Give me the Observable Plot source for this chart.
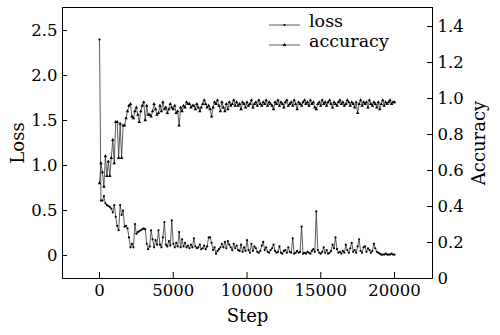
<!DOCTYPE html>
<html><head><meta charset="utf-8">
<script src="https://cdn.jsdelivr.net/npm/d3@7"></script>
<script src="https://cdn.jsdelivr.net/npm/@observablehq/plot@0.6"></script>
<style>
body{margin:0;background:#fff}
#wrap{position:relative;width:500px;height:335px;font-family:"DejaVu Serif",serif}
#wrap svg{position:absolute;left:0;top:0}
#wrap g[aria-label$="axis label"] text{font-size:18px}
</style></head><body><div id="wrap"></div>
<script>
// Training curve data, one value every 100 steps (step 0 .. 20000)
const stepInterval = 100;
const loss = [
2.40,0.61,0.61,0.66,0.58,0.56,0.55,0.54,0.52,0.48,
0.56,0.43,0.33,0.28,0.56,0.45,0.50,0.32,0.33,0.30,
0.20,0.09,0.13,0.09,0.35,0.24,0.26,0.27,0.28,0.29,
0.30,0.29,0.13,0.07,0.10,0.28,0.18,0.09,0.17,0.12,
0.28,0.12,0.09,0.20,0.37,0.12,0.10,0.16,0.11,0.39,
0.13,0.09,0.14,0.10,0.26,0.09,0.18,0.10,0.14,0.09,
0.11,0.08,0.12,0.09,0.19,0.10,0.08,0.09,0.12,0.07,
0.08,0.11,0.07,0.10,0.20,0.20,0.14,0.06,0.09,0.02,
0.05,0.07,0.09,0.13,0.09,0.15,0.08,0.16,0.12,0.09,
0.06,0.13,0.08,0.11,0.06,0.05,0.12,0.04,0.09,0.05,
0.17,0.06,0.03,0.13,0.05,0.10,0.08,0.04,0.03,0.05,
0.11,0.15,0.06,0.09,0.04,0.03,0.06,0.08,0.12,0.05,
0.03,0.04,0.10,0.03,0.02,0.05,0.06,0.03,0.09,0.04,
0.03,0.19,0.02,0.03,0.05,0.03,0.04,0.32,0.02,0.03,
0.02,0.04,0.03,0.02,0.05,0.07,0.04,0.49,0.06,0.03,
0.02,0.04,0.09,0.03,0.06,0.02,0.03,0.05,0.12,0.08,
0.20,0.07,0.03,0.04,0.02,0.05,0.03,0.12,0.06,0.03,
0.08,0.14,0.04,0.06,0.03,0.10,0.18,0.05,0.03,0.09,
0.10,0.04,0.08,0.06,0.03,0.05,0.13,0.08,0.04,0.03,
0.02,0.01,0.01,0.01,0.02,0.01,0.01,0.01,0.02,0.01,
0.01];
const accuracy = [
0.53,0.64,0.59,0.51,0.68,0.57,0.65,0.57,0.67,0.77,
0.64,0.87,0.87,0.67,0.86,0.67,0.85,0.85,0.89,0.93,
0.96,0.97,0.90,0.89,0.93,0.95,0.91,0.87,0.93,0.96,
0.98,0.88,0.96,0.91,0.91,0.90,0.93,0.97,0.94,0.91,
0.92,0.96,0.93,0.98,0.94,0.95,0.92,0.94,0.97,0.95,
0.94,0.96,0.92,0.93,0.85,0.95,0.93,0.96,0.95,0.98,
0.97,0.97,0.95,0.96,0.96,0.94,0.97,0.95,0.93,0.95,
0.97,0.99,0.97,0.95,0.96,0.94,0.90,0.95,0.98,0.97,
0.99,0.96,0.93,0.98,0.95,0.93,0.97,0.94,0.98,0.96,
0.97,0.99,0.96,0.98,0.96,0.97,0.94,0.98,0.97,0.95,
0.98,0.96,0.97,0.99,0.95,0.97,0.98,0.96,0.99,0.97,
0.96,0.98,0.97,0.99,0.96,0.98,0.97,0.96,0.94,0.98,
0.97,0.99,0.96,0.98,0.97,0.95,0.98,0.99,0.96,0.97,
0.98,0.96,0.99,0.97,0.94,0.98,0.97,0.96,0.98,0.99,
0.97,0.98,0.96,0.99,0.97,0.98,0.95,0.94,0.97,0.98,
0.96,0.99,0.97,0.98,0.96,0.98,0.99,0.97,0.95,0.98,
0.97,0.96,0.98,0.99,0.97,0.98,0.96,0.97,0.99,0.98,
0.96,0.98,0.97,0.95,0.98,0.92,0.97,0.99,0.96,0.98,
0.97,0.98,0.95,0.99,0.97,0.96,0.98,0.97,0.95,0.98,
0.94,0.97,0.99,0.96,0.98,0.97,0.98,0.99,0.97,0.98,
0.98];
const xTicks = [0, 5000, 10000, 15000, 20000];
const lossTicks = [0, 0.5, 1.0, 1.5, 2.0, 2.5];
const accTicks = [0, 0.2, 0.4, 0.6, 0.8, 1.0, 1.2, 1.4];
const seriesNames = ["loss", "accuracy"];

const data = loss.map((v, i) => ({step: i * stepInterval, loss: v, accuracy: accuracy[i]}));
const fmt = d => d === 0 ? "0" : d.toFixed(1);

const common = {
  width: 500, height: 335,
  marginLeft: 62, marginRight: 68, marginTop: 7, marginBottom: 57,
  style: {fontFamily: '"DejaVu Serif", serif', fontSize: "16.5px", color: "#000", background: "transparent", overflow: "visible"}
};
const xDomain = [-2508, 22576];

const p1 = Plot.plot({
  ...common,
  x: {domain: xDomain},
  y: {domain: [-0.256, 2.756]},
  marks: [
    Plot.axisX(xTicks, {anchor: "bottom", tickSize: -6, tickPadding: 12, tickFormat: d => String(d), label: "Step", labelAnchor: "center", labelArrow: "none", labelOffset: 43}),
    Plot.axisY(lossTicks, {anchor: "left", tickSize: -5, tickPadding: 10, tickFormat: fmt, label: "Loss", labelAnchor: "center", labelArrow: "none", labelOffset: 51}),
    Plot.line(data, {x: "step", y: "loss", stroke: "#333", strokeWidth: 0.8}),
    Plot.dot(data, {x: "step", y: "loss", r: 1.1, fill: "#000", stroke: null}),
    Plot.frame({stroke: "#000", strokeWidth: 1})
  ]
});

const p2 = Plot.plot({
  ...common,
  x: {domain: xDomain, axis: null},
  y: {domain: [0, 1.506]},
  marks: [
    Plot.axisY(accTicks, {anchor: "right", tickSize: -6, tickPadding: 11, tickFormat: fmt, label: "Accuracy", labelAnchor: "center", labelArrow: "none", labelOffset: 52}),
    Plot.line(data, {x: "step", y: "accuracy", stroke: "#333", strokeWidth: 0.8}),
    Plot.dot(data, {x: "step", y: "accuracy", r: 1.3, symbol: "triangle", fill: "#000", stroke: null})
  ]
});

const wrap = document.getElementById("wrap");
wrap.appendChild(p1);
wrap.appendChild(p2);

// legend
const lg = d3.select(wrap).append("svg").attr("width", 500).attr("height", 335)
  .style("font-family", '"DejaVu Serif", serif').style("font-size", "17.5px");
seriesNames.forEach((name, i) => {
  const g = lg.append("g").attr("transform", `translate(269,${25 + i * 20})`);
  g.append("line").attr("x1", 0).attr("x2", 31).attr("y1", 0).attr("y2", 0).attr("stroke", "#333").attr("stroke-width", 0.8);
  if (i === 0) g.append("circle").attr("cx", 15.5).attr("cy", 0).attr("r", 1.1).attr("fill", "#000");
  else g.append("path").attr("d", d3.symbol(d3.symbolTriangle, 6)()).attr("transform", "translate(15.5,0)").attr("fill", "#000");
  g.append("text").attr("x", 40).attr("y", 0).attr("dy", "0.12em").text(name).attr("fill", "#000");
});
</script></body></html>
